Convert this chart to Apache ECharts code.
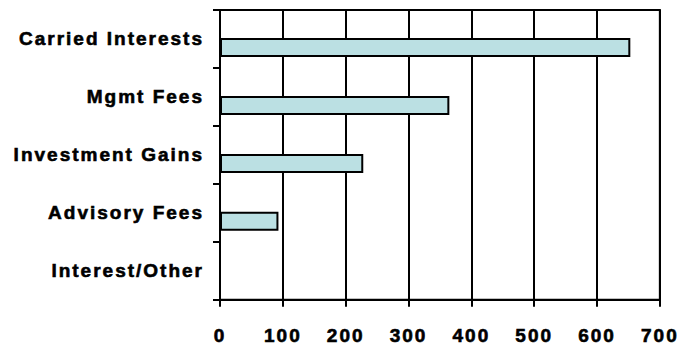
<!DOCTYPE html>
<html>
<head>
<meta charset="utf-8">
<script src="https://cdn.jsdelivr.net/npm/echarts@6/dist/echarts.min.js"></script>
<style>
  html, body { margin: 0; padding: 0; background: #ffffff; }
  #chart { width: 679px; height: 345px; }
  #chart text { letter-spacing: 2px; }
</style>
</head>
<body>
<div id="chart"></div>
<script>
// Revenue sources (top to bottom)
const categories = ['Carried Interests', 'Mgmt Fees', 'Investment Gains', 'Advisory Fees', 'Interest/Other'];
// Revenue values
const revenue = [653, 365, 228, 93, 0];
// Empty comparison slot that sits above each bar in its row
const comparison = [null, null, null, null, null];
// Value axis ticks
const xTicks = [0, 100, 200, 300, 400, 500, 600, 700];

const chart = echarts.init(document.getElementById('chart'), null, { renderer: 'svg' });

const labelFont = {
  fontFamily: '"Liberation Sans", Arial, sans-serif',
  fontWeight: 'bold',
  color: '#000000',
  textBorderColor: '#000000',
  textBorderWidth: 0.6
};

chart.setOption({
  animation: false,
  grid: {
    left: 220, right: 16, top: 10, bottom: 41,
    show: true, borderColor: '#000000', borderWidth: 2, backgroundColor: '#ffffff'
  },
  xAxis: {
    type: 'value',
    min: xTicks[0],
    max: xTicks[xTicks.length - 1],
    interval: xTicks[1] - xTicks[0],
    axisLine: { show: true, lineStyle: { color: '#000000', width: 2 } },
    axisTick: { show: true, length: 7, lineStyle: { color: '#000000', width: 2 } },
    splitLine: { show: true, lineStyle: { color: '#000000', width: 2 } },
    axisLabel: Object.assign({ fontSize: 19, margin: 26 }, labelFont)
  },
  yAxis: {
    type: 'category',
    data: categories,
    inverse: true,
    axisLine: { show: true, lineStyle: { color: '#000000', width: 2 } },
    axisTick: { show: true, length: 7, lineStyle: { color: '#000000', width: 2 } },
    splitLine: { show: false },
    axisLabel: Object.assign({ fontSize: 19, margin: 16 }, labelFont)
  },
  series: [
    {
      type: 'bar',
      name: 'Comparison',
      data: comparison,
      barWidth: 19,
      barGap: '-10%'
    },
    {
      type: 'bar',
      name: 'Revenue',
      data: revenue,
      barWidth: 19,
      barGap: '-10%',
      itemStyle: { color: '#bbe0e3', borderColor: '#000000', borderWidth: 2 }
    }
  ]
});
</script>
</body>
</html>
